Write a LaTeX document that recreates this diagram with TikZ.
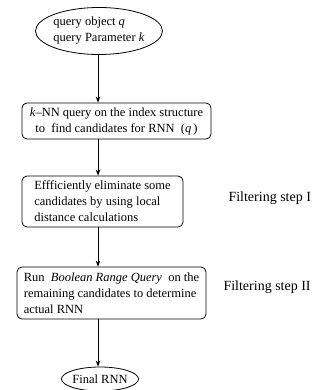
\documentclass[tikz,border=0pt]{standalone}
\usepackage{fontspec}
\setmainfont{Liberation Serif}
\usetikzlibrary{shapes.geometric,arrows.meta}
\begin{document}
\begin{tikzpicture}[x=1pt,y=1pt,
  every node/.style={font=\fontsize{12.5}{16}\selectfont},
  stepbox/.style={draw, rounded corners=5pt, line width=0.8pt, inner sep=0pt},
  oval/.style={draw, ellipse, line width=0.8pt, inner sep=0pt},
  arr/.style={line width=0.8pt, -{Stealth[length=6pt,width=4.5pt]}},
  lbl/.style={anchor=west, font=\fontsize{14}{17}\selectfont}]
\useasboundingbox (0,0) rectangle (321,-390);
\node[oval, minimum width=127pt, minimum height=47pt] (e1) at (99,-31) {};
\node[align=left] (t1) at (e1) {query object \textit{q}\\query Parameter \textit{k}};
\node[stepbox, minimum width=189pt, minimum height=36pt, align=center] (b2) at (116.5,-121)
  {\textit{k}--NN query on the index structure\\to\ \ find candidates for RNN\ \ (\textit{q}\,)};
\node[stepbox, minimum width=161pt, minimum height=51pt, align=left] (b3) at (102.5,-201.5)
  {Effficiently eliminate some\\candidates by using local\\distance calculations};
\node[stepbox, minimum width=189pt, minimum height=52pt, align=left] (b4) at (111.5,-293)
  {Run\ \ \textit{Boolean Range Query}\ \ on the\\remaining candidates to determine\\actual RNN};
\node[oval, minimum width=77pt, minimum height=24pt] (e5) at (100,-379) {};
\node (t5) at (e5) {Final RNN};
\node[lbl] (l1) at (225,-198) {Filtering step I};
\node[lbl] (l2) at (220,-287) {Filtering step II};
\coordinate (c1) at (98,0);
\draw[arr] (e1.south -| c1) -- (b2.north -| c1);
\draw[arr] (b2.south -| c1) -- (b3.north -| c1);
\draw[arr] (b3.south -| c1) -- (b4.north -| c1);
\draw[arr] (b4.south -| c1) -- (e5.north -| c1);
\end{tikzpicture}
\end{document}
